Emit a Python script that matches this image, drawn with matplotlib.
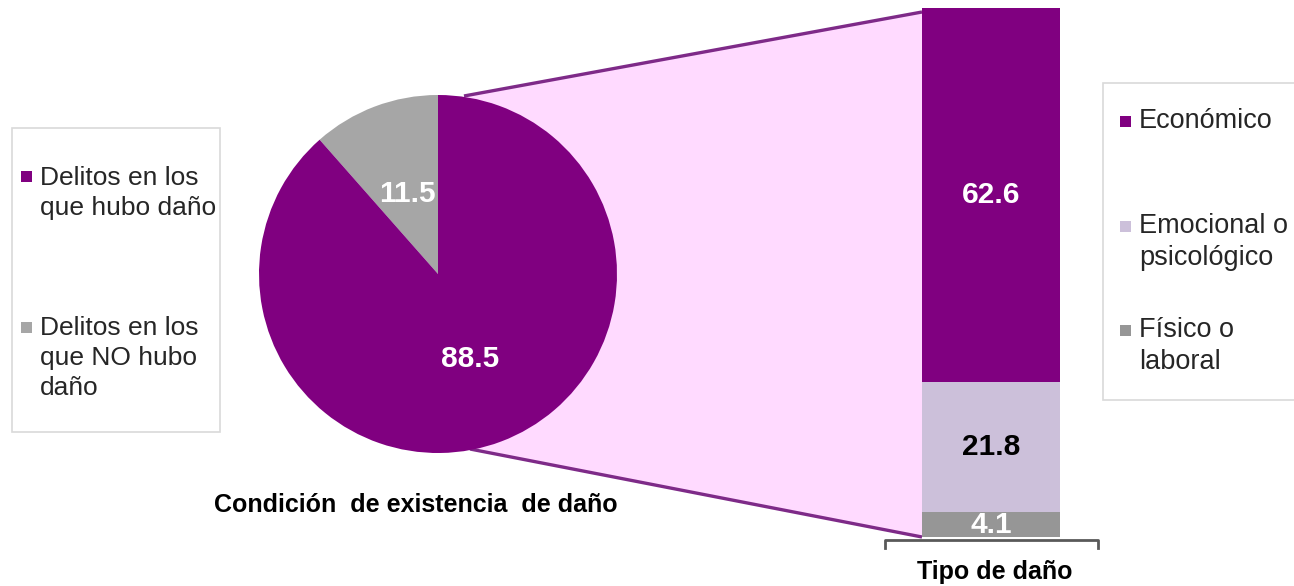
import matplotlib as mpl
mpl.use("Agg")
import matplotlib.pyplot as plt
from matplotlib.patches import Polygon, Rectangle

mpl.rcParams.update({
    "font.family": ["Liberation Sans", "DejaVu Sans"],
})

# data
pie_labels = ["Delitos en los\nque NO hubo\ndaño", "Delitos en los\nque hubo daño"]
pie_values = [11.5, 88.5]
bar_labels = ["Físico o\nlaboral", "Emocional o\npsicológico", "Económico"]
bar_values = [4.1, 21.8, 62.6]

# palette
PURPLE = "#800080"; GRAY = "#A6A6A6"; LAV = "#CCC0DA"; DGRAY = "#969696"
PINK = "#FFDAFF"; LINE = "#7E2A88"; BOX = "#D9D9D9"; TXT = "#262626"
pie_colors = [GRAY, PURPLE]
bar_colors = [DGRAY, LAV, PURPLE]
bar_txt = ["white", "black", "white"]

W, H = 1294, 586
fig = plt.figure(figsize=(W / 100, H / 100), dpi=100)
ax = fig.add_axes([0, 0, 1, 1])

# connector (pink band + purple edges), behind pie
ax.add_patch(Polygon([(464, 96), (922, 12), (922, 537), (470, 449), (438, 274)],
                     closed=True, facecolor=PINK, edgecolor="none", zorder=1))
ax.plot([464, 922], [96, 12], color=LINE, lw=2.4, zorder=2, solid_capstyle="butt")
ax.plot([470, 922], [449, 537], color=LINE, lw=2.4, zorder=2, solid_capstyle="butt")

# pie (y axis inverted -> clockwise in data = counter-clockwise on screen)
wedges, _ = ax.pie(pie_values, colors=pie_colors, center=(438, 274), radius=179,
                   startangle=-90, counterclock=False,
                   wedgeprops=dict(linewidth=0))
for w in wedges:
    w.set_zorder(3)
ax.text(407, 194, f"{pie_values[0]}", ha="center", va="center", fontsize=21.5,
        fontweight="bold", color="white", zorder=5)
ax.text(470, 359, f"{pie_values[1]}", ha="center", va="center", fontsize=21.5,
        fontweight="bold", color="white", zorder=5)

ax.set_xlim(0, W); ax.set_ylim(H, 0)
ax.set_aspect("auto")
ax.axis("off")

# titles
ax.text(416, 505, "Condición  de existencia  de daño", ha="center", va="center",
        fontsize=18, fontweight="bold", color="black")

# left legend
ax.add_patch(Rectangle((12, 128), 208, 304, facecolor="white", edgecolor=BOX, lw=1.2, zorder=2))
for lab, c, yc, ym in [(pie_labels[1], pie_colors[1], 193, 176),
                       (pie_labels[0], pie_colors[0], 358, 327)]:
    ax.add_patch(Rectangle((21, ym - 5.5), 11, 11, facecolor=c, edgecolor="none", zorder=3))
    ax.text(40, yc, lab, ha="left", va="center", fontsize=19, color=TXT,
            linespacing=1.32, zorder=3)

# right legend
ax.add_patch(Rectangle((1103, 83), 200, 317, facecolor="white", edgecolor=BOX, lw=1.2, zorder=2))
for lab, c, yc, ym in [(bar_labels[2], bar_colors[2], 121, 121),
                       (bar_labels[1], bar_colors[1], 242, 226),
                       (bar_labels[0], bar_colors[0], 346, 330)]:
    ax.add_patch(Rectangle((1120, ym - 5.5), 11, 11, facecolor=c, edgecolor="none", zorder=3))
    ax.text(1139, yc, lab, ha="left", va="center", fontsize=19.5, color=TXT,
            linespacing=1.28, zorder=3)

# stacked bar
bax = fig.add_axes([922 / W, (H - 537) / H, 138 / W, 529 / H])
bottom = 0
for v, c, tc in zip(bar_values, bar_colors, bar_txt):
    bars = bax.bar(0, v, width=1, bottom=bottom, color=c, linewidth=0)
    bax.bar_label(bars, labels=[f"{v}"], label_type="center", fontsize=21.5,
                  fontweight="bold", color=tc)
    bottom += v
bax.set_xlim(-0.5, 0.5); bax.set_ylim(0, sum(bar_values))
bax.axis("off")

# bracket under the bar
bax.plot([885, 885, 1098, 1098], [548, 540, 540, 548], color="#595959", lw=2,
         transform=ax.transData, clip_on=False, zorder=6)
bax.text(995, 572, "Tipo de daño", ha="center", va="center", fontsize=18,
         fontweight="bold", color="black", transform=ax.transData, clip_on=False)

fig.savefig("out.png", dpi=100)
